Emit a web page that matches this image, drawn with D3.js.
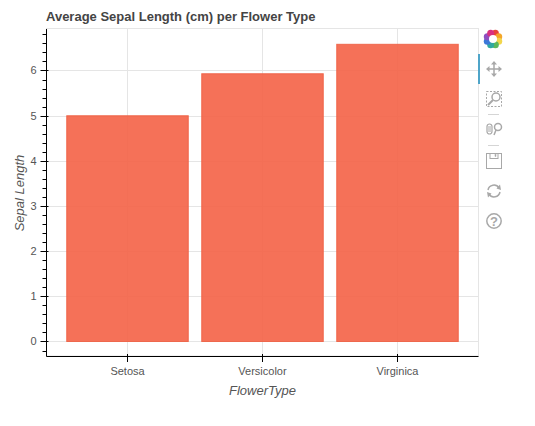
<!DOCTYPE html>
<html><head><meta charset="utf-8">
<script src="https://cdn.jsdelivr.net/npm/d3@7"></script>
<style>html,body{margin:0;padding:0;background:#fff}svg{display:block}text{font-family:"Liberation Sans",Arial,sans-serif}</style>
</head><body><div id="c"></div>
<script>
const categories=["Setosa","Versicolor","Virginica"];
const values=[5.006,5.936,6.588];
const yTicks=[0,1,2,3,4,5,6];
const minorTicks=d3.range(-0.2,6.9,0.2).map(v=>+v.toFixed(1)).filter(v=>Math.abs(v-Math.round(v))>1e-6);
const title="Average Sepal Length (cm) per Flower Type";
const xTitle="FlowerType", yTitle="Sepal Length";

const W=535,H=426,L=46.5,R=478.5,T=29,B=356;
const svg=d3.select("#c").append("svg").attr("width",W).attr("height",H);
const x=d3.scaleBand().domain(categories).range([L,R]).paddingOuter(0.1).paddingInner(0);
const y=d3.scaleLinear().domain([-0.321,6.918]).range([B,T]);
const ink="#555555",grid="#e5e5e5";

// border + grid
svg.append("rect").attr("x",L).attr("y",T-0.5).attr("width",R-L).attr("height",B-T+0.5).attr("fill","none").attr("stroke",grid);
svg.append("g").selectAll("line").data(categories).join("line")
 .attr("x1",d=>x(d)+x.bandwidth()/2).attr("x2",d=>x(d)+x.bandwidth()/2).attr("y1",T).attr("y2",B).attr("stroke",grid);
svg.append("g").selectAll("line").data(yTicks).join("line")
 .attr("x1",L).attr("x2",R).attr("y1",d=>Math.round(y(d))+.5).attr("y2",d=>Math.round(y(d))+.5).attr("stroke",grid);

// bars
svg.append("g").selectAll("rect").data(categories).join("rect")
 .attr("x",d=>x(d)+x.bandwidth()*0.05).attr("width",x.bandwidth()*0.9)
 .attr("y",(d,i)=>y(values[i])+.4).attr("height",(d,i)=>y(0)-y(values[i])-.4)
 .attr("fill","#f4654a").attr("fill-opacity",0.92)
 .attr("stroke","#ee6045").attr("stroke-opacity",0.9).attr("stroke-width",1);

// axes
const ax=svg.append("g").attr("stroke","#000").attr("stroke-width",1);
ax.append("line").attr("x1",L).attr("x2",L).attr("y1",T).attr("y2",B+.5);
ax.append("line").attr("x1",L).attr("x2",R).attr("y1",B+.5).attr("y2",B+.5);
ax.selectAll(".maj").data(yTicks).join("line").attr("class","maj")
 .attr("x1",L-6).attr("x2",L+2).attr("y1",d=>Math.round(y(d))+.5).attr("y2",d=>Math.round(y(d))+.5);
ax.selectAll(".min").data(minorTicks).join("line").attr("class","min")
 .attr("x1",L-4).attr("x2",L).attr("y1",d=>Math.round(y(d))+.5).attr("y2",d=>Math.round(y(d))+.5);
ax.selectAll(".xt").data(categories).join("line").attr("class","xt")
 .attr("x1",d=>x(d)+x.bandwidth()/2).attr("x2",d=>x(d)+x.bandwidth()/2).attr("y1",B-2).attr("y2",B+6);

svg.append("g").selectAll("text").data(yTicks).join("text")
 .attr("x",L-10).attr("y",d=>y(d)+4).attr("text-anchor","end").attr("font-size",11).attr("fill",ink).text(d=>d);
svg.append("g").selectAll("text").data(categories).join("text")
 .attr("x",d=>x(d)+x.bandwidth()/2).attr("y",375).attr("text-anchor","middle").attr("font-size",11).attr("fill",ink).text(d=>d);
svg.append("text").attr("x",46).attr("y",21).attr("font-size",13).attr("font-weight","bold").attr("fill","#444").text(title);
svg.append("text").attr("x",262.5).attr("y",395).attr("text-anchor","middle").attr("font-size",13).attr("font-style","italic").attr("fill",ink).text(xTitle);
svg.append("text").attr("transform","translate(24,193) rotate(-90)").attr("text-anchor","middle").attr("font-size",13).attr("font-style","italic").attr("fill",ink).text(yTitle);

// toolbar
const tb=svg.append("g");
const logoColors=["#e8433b","#f4a62a","#f2d64b","#5cb85c","#2fa8a0","#3b78d8","#8e4fc0","#d9307f"];
const logo=tb.append("g").attr("transform","translate(493,39)");
logo.selectAll("circle").data(logoColors).join("circle")
 .attr("cx",(d,i)=>6.2*Math.sin((i+.5)*Math.PI/4)).attr("cy",(d,i)=>-6.2*Math.cos((i+.5)*Math.PI/4))
 .attr("r",3.5).attr("fill",d=>d);
logo.append("circle").attr("r",4).attr("fill","#fff");
tb.append("rect").attr("x",478).attr("y",54).attr("width",2).attr("height",30).attr("fill","#4fa5c9");
const ic="#a8a8a8";
const g=tb.append("g").attr("fill","none").attr("stroke",ic).attr("stroke-width",1.5);
// pan
const pan=g.append("g").attr("transform","translate(494,69)");
pan.append("path").attr("d","M-7,0H7M0,-7V7");
pan.append("path").attr("fill",ic).attr("stroke","none").attr("d","M-8,0L-4.5,-3V3ZM8,0L4.5,-3V3ZM0,-8L-3,-4.5H3ZM0,8L-3,4.5H3Z");
// box zoom
const bz=g.append("g").attr("transform","translate(494,99)");
bz.append("rect").attr("x",-7.5).attr("y",-7.5).attr("width",15).attr("height",15).attr("stroke-width",1).attr("stroke-dasharray","2 1.5");
bz.append("circle").attr("cx",2).attr("cy",-2).attr("r",4).attr("fill","#fff");
bz.append("path").attr("d","M-1,1L-6,6").attr("stroke-width",2);
// separators
g.append("path").attr("stroke-width",1).attr("stroke","#d5d5d5").attr("d","M488,114.5H499M488,145.5H499");
// wheel zoom
const wz=g.append("g").attr("transform","translate(494,129)");
wz.append("rect").attr("x",-7).attr("y",-5).attr("width",5).attr("height",10).attr("rx",2.5).attr("stroke-width",1.2);
wz.append("path").attr("stroke-width",1).attr("d","M-6,-2H-3M-6,0H-3M-6,2H-3");
wz.append("circle").attr("cx",4).attr("cy",-2).attr("r",3.5);
wz.append("path").attr("d","M2,1L0,6");
// save
const sv=g.append("g").attr("transform","translate(494,161)");
sv.append("rect").attr("x",-7.5).attr("y",-7.5).attr("width",15).attr("height",15).attr("stroke-width",1);
sv.append("rect").attr("x",-4).attr("y",-7.5).attr("width",8).attr("height",5).attr("stroke-width",1);
sv.append("rect").attr("x",1).attr("y",-6.5).attr("width",1).attr("height",2).attr("fill",ic).attr("stroke-width",.5);
// reset
const rs=g.append("g").attr("transform","translate(494,191)");
rs.append("path").attr("d","M-6,-1A6,6 0 0 1 5,-3M6,1A6,6 0 0 1 -5,3");
rs.append("path").attr("fill",ic).attr("stroke","none").attr("d","M7,-1L2.5,-2.5L6,-6.5ZM-7,1L-2.5,2.5L-6,6.5Z");
// help
const hp=g.append("g").attr("transform","translate(494,221)");
hp.append("circle").attr("r",7.2);
hp.append("text").attr("y",4.5).attr("text-anchor","middle").attr("font-size",13).attr("font-weight","bold").attr("fill",ic).attr("stroke","none").text("?");
</script></body></html>
